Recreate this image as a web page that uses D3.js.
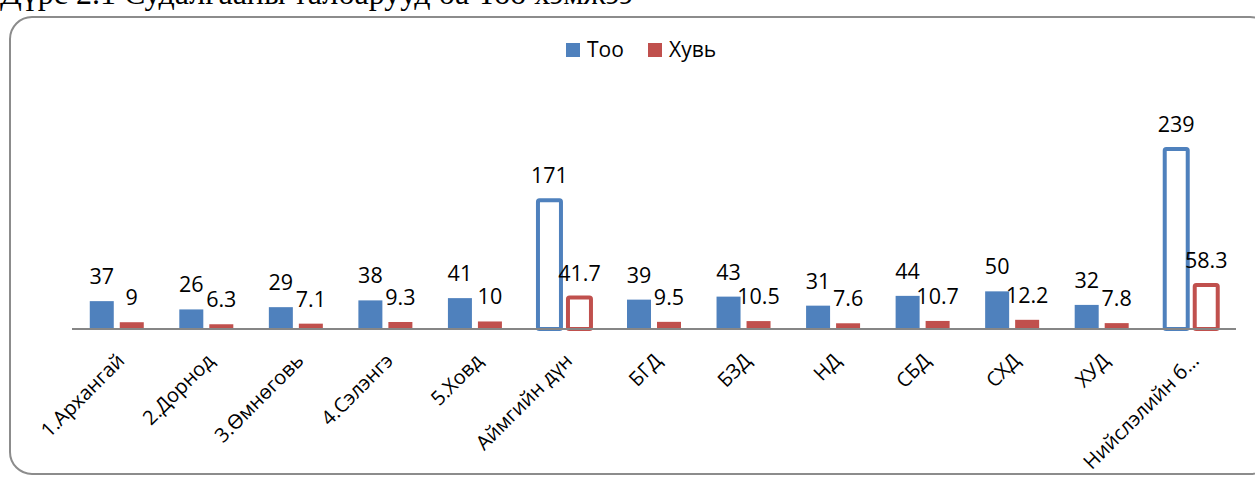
<!DOCTYPE html>
<html>
<head>
<meta charset="utf-8">
<script src="https://cdn.jsdelivr.net/npm/d3@7"></script>
<style>
  html, body { margin: 0; padding: 0; background: #fff; }
  svg { display: block; }
</style>
</head>
<body>
<svg id="chart" width="1255" height="477"></svg>
<script>
// Survey areas: count (Тоо) and share in percent (Хувь)
const categories = ["1.Архангай", "2.Дорнод", "3.Өмнөговь", "4.Сэлэнгэ", "5.Ховд", "Аймгийн дүн",
                    "БГД", "БЗД", "НД", "СБД", "СХД", "ХУД", "Нийслэлийн б…"];
const countValues   = [37, 26, 29, 38, 41, 171, 39, 43, 31, 44, 50, 32, 239];
const percentValues = [9, 6.3, 7.1, 9.3, 10, 41.7, 9.5, 10.5, 7.6, 10.7, 12.2, 7.8, 58.3];
const seriesNames = ["Тоо", "Хувь"];
// Subtotal rows drawn as outlined bars
const subtotalCategories = ["Аймгийн дүн", "Нийслэлийн б…"];

const colors = { "Тоо": "#4F81BD", "Хувь": "#C0504D" };
const font = "'Open Sans', 'DejaVu Sans', sans-serif";

const svg = d3.select("#chart");

// Caption above the chart frame (partly outside the page)
svg.append("text")
  .attr("x", 0).attr("y", 4)
  .attr("font-family", "'Liberation Serif', 'Times New Roman', serif")
  .attr("font-size", 32)
  .attr("fill", "#000")
  .text("Дүрс 2.1 Судалгааны талбарууд ба Тоо хэмжээ");

// Rounded chart frame
svg.append("rect")
  .attr("x", 10).attr("y", 17)
  .attr("width", 1262).attr("height", 457)
  .attr("rx", 22).attr("ry", 22)
  .attr("fill", "none")
  .attr("stroke", "#8c8c8c")
  .attr("stroke-width", 2);

const plot = { left: 72, right: 1236, base: 329 };

const x0 = d3.scaleBand().domain(categories).range([plot.left, plot.right]).padding(0);
const step = x0.step();
const x1 = d3.scaleBand().domain(seriesNames)
  .range([step / 2 - 27, step / 2 + 27]).paddingInner(0.2).paddingOuter(0);
const y = d3.scaleLinear().domain([0, 300]).range([plot.base, plot.base - 225.9]);

const rows = categories.map((c, i) => ({
  cat: c,
  subtotal: subtotalCategories.includes(c),
  vals: [
    { key: "Тоо", v: countValues[i] },
    { key: "Хувь", v: percentValues[i] }
  ]
}));

const groups = svg.append("g").selectAll("g")
  .data(rows).join("g")
  .attr("transform", d => `translate(${x0(d.cat)},0)`);

groups.each(function (row) {
  const g = d3.select(this);
  row.vals.forEach(s => {
    const bx = x1(s.key), bw = x1.bandwidth();
    if (row.subtotal) {
      g.append("rect")
        .attr("x", bx + 0.5).attr("y", y(s.v))
        .attr("width", bw - 1).attr("height", y(0) - y(s.v))
        .attr("fill", "#fff")
        .attr("stroke", colors[s.key])
        .attr("stroke-width", 4)
        .attr("rx", 1.5);
    } else {
      g.append("rect")
        .attr("x", bx).attr("y", y(s.v))
        .attr("width", bw).attr("height", y(0) - y(s.v))
        .attr("fill", colors[s.key]);
    }
    g.append("text")
      .attr("x", bx + bw / 2)
      .attr("y", y(s.v) - 17)
      .attr("text-anchor", "middle")
      .attr("font-family", font)
      .attr("font-size", 21.5)
      .attr("fill", "#000")
      .text(String(s.v));
  });
});

// Category axis line
svg.append("line")
  .attr("x1", plot.left).attr("x2", plot.right)
  .attr("y1", plot.base).attr("y2", plot.base)
  .attr("stroke", "#868686").attr("stroke-width", 2);

// Rotated category labels
svg.append("g").selectAll("text")
  .data(categories).join("text")
  .attr("transform", d => `translate(${x0(d) + step / 2 + 9},362) rotate(-45)`)
  .attr("text-anchor", "end")
  .attr("font-family", font)
  .attr("font-size", 20)
  .attr("fill", "#000")
  .text(d => d);

// Legend
const legend = svg.append("g");
const legendItems = [{ key: "Тоо", x: 566 }, { key: "Хувь", x: 648 }];
legendItems.forEach(it => {
  legend.append("rect")
    .attr("x", it.x).attr("y", 43)
    .attr("width", 14).attr("height", 14)
    .attr("fill", colors[it.key]);
  legend.append("text")
    .attr("x", it.x + 21).attr("y", 57)
    .attr("font-family", font)
    .attr("font-size", 21)
    .attr("fill", "#000")
    .text(it.key);
});
</script>
</body>
</html>
